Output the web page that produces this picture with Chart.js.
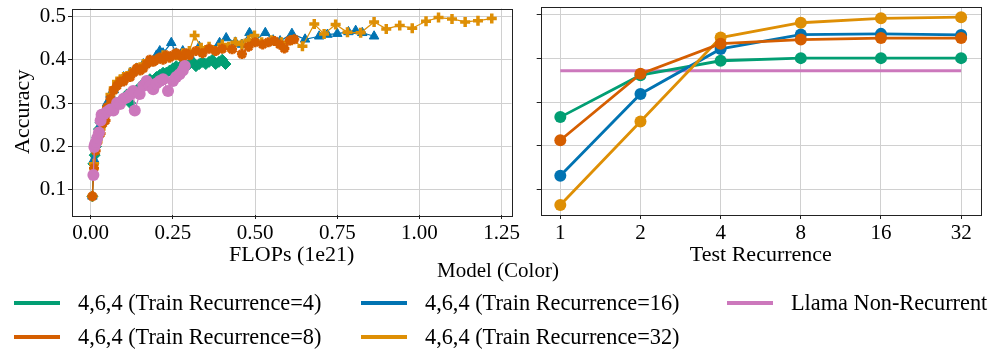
<!DOCTYPE html>
<html>
<head>
<meta charset="utf-8">
<script src="https://cdn.jsdelivr.net/npm/chart.js@4.4.1/dist/chart.umd.min.js"></script>
<style>
  body { margin: 0; background: #fff; }
  #wrap { position: relative; width: 996px; height: 363px; font-family: "Liberation Serif", serif; color: #000; }
  #leftBox { position: absolute; left: 0; top: 0; width: 520px; height: 268px; }
  #rightBox { position: absolute; left: 520px; top: 0; width: 476px; height: 268px; }
  #legendTitle { position: absolute; left: 0; width: 996px; top: 258px; text-align: center; font-size: 21px; }
  .item { position: absolute; height: 26px; font-size: 22.3px; line-height: 26px; white-space: nowrap; }
  .item span.swatch { position: absolute; left: 0; top: 11px; width: 46px; height: 4px; }
  .item span.label { position: absolute; left: 64px; top: 0; }
</style>
</head>
<body>
<div id="wrap">
  <div id="leftBox"><canvas id="flopsChart"></canvas></div>
  <div id="rightBox"><canvas id="recurrenceChart"></canvas></div>
  <div id="legendTitle">Model (Color)</div>
  <div id="legend"></div>
</div>
<script>
// Left panel: accuracy vs training FLOPs (1e21)
const rec4Flops = [0.005, 0.008, 0.012, 0.016, 0.02, 0.025, 0.03, 0.035, 0.04, 0.05, 0.06, 0.07, 0.08, 0.09, 0.10, 0.11, 0.12, 0.13, 0.14, 0.15, 0.16, 0.17, 0.18, 0.19, 0.20, 0.21, 0.22, 0.23, 0.24, 0.25, 0.26, 0.27, 0.28, 0.29, 0.30, 0.31, 0.32, 0.33, 0.34, 0.35, 0.36, 0.37, 0.38, 0.39, 0.40, 0.41];
const rec4Acc   = [0.085, 0.16, 0.18, 0.20, 0.22, 0.24, 0.255, 0.265, 0.27, 0.28, 0.29, 0.295, 0.30, 0.305, 0.31, 0.32, 0.30, 0.325, 0.33, 0.335, 0.345, 0.35, 0.355, 0.35, 0.36, 0.365, 0.37, 0.37, 0.375, 0.38, 0.385, 0.38, 0.39, 0.385, 0.39, 0.395, 0.385, 0.39, 0.395, 0.39, 0.395, 0.40, 0.39, 0.395, 0.40, 0.39];

const rec8Flops = [0.005, 0.01, 0.015, 0.02, 0.03, 0.037, 0.045, 0.05, 0.06, 0.07, 0.08, 0.09, 0.10, 0.11, 0.12, 0.13, 0.14, 0.15, 0.16, 0.17, 0.18, 0.19, 0.20, 0.21, 0.22, 0.23, 0.24, 0.25, 0.26, 0.27, 0.28, 0.29, 0.30, 0.32, 0.34, 0.36, 0.38, 0.40, 0.43, 0.46, 0.48, 0.50, 0.523, 0.54, 0.559, 0.575, 0.589, 0.605, 0.619];
const rec8Acc   = [0.085, 0.15, 0.19, 0.21, 0.23, 0.253, 0.26, 0.29, 0.31, 0.33, 0.34, 0.35, 0.35, 0.36, 0.36, 0.37, 0.38, 0.375, 0.38, 0.39, 0.40, 0.395, 0.40, 0.405, 0.40, 0.41, 0.405, 0.41, 0.415, 0.41, 0.405, 0.415, 0.41, 0.42, 0.415, 0.425, 0.42, 0.425, 0.424, 0.413, 0.43, 0.44, 0.435, 0.44, 0.443, 0.435, 0.426, 0.444, 0.447];

const rec16Flops = [0.005, 0.01, 0.02, 0.03, 0.04, 0.05, 0.06, 0.07, 0.08, 0.09, 0.10, 0.12, 0.14, 0.16, 0.18, 0.20, 0.21, 0.22, 0.245, 0.26, 0.28, 0.30, 0.33, 0.36, 0.392, 0.412, 0.44, 0.46, 0.483, 0.50, 0.531, 0.555, 0.576, 0.612, 0.652, 0.695, 0.72, 0.75, 0.784, 0.806, 0.826, 0.862];
const rec16Acc   = [0.085, 0.17, 0.22, 0.25, 0.27, 0.30, 0.32, 0.33, 0.345, 0.35, 0.36, 0.37, 0.38, 0.39, 0.395, 0.41, 0.42, 0.415, 0.439, 0.415, 0.42, 0.41, 0.43, 0.425, 0.439, 0.45, 0.44, 0.435, 0.462, 0.445, 0.462, 0.445, 0.443, 0.46, 0.447, 0.454, 0.458, 0.46, 0.464, 0.467, 0.462, 0.454];

const rec32Flops = [0.005, 0.01, 0.02, 0.03, 0.04, 0.05, 0.06, 0.07, 0.08, 0.09, 0.10, 0.12, 0.14, 0.16, 0.18, 0.20, 0.22, 0.24, 0.26, 0.28, 0.30, 0.316, 0.336, 0.36, 0.38, 0.40, 0.42, 0.44, 0.46, 0.48, 0.498, 0.52, 0.55, 0.58, 0.61, 0.644, 0.68, 0.71, 0.745, 0.781, 0.821, 0.862, 0.899, 0.94, 0.978, 1.02, 1.058, 1.099, 1.139, 1.178, 1.22];
const rec32Acc   = [0.085, 0.16, 0.21, 0.24, 0.27, 0.29, 0.32, 0.335, 0.35, 0.355, 0.36, 0.37, 0.38, 0.39, 0.395, 0.40, 0.41, 0.405, 0.41, 0.415, 0.42, 0.456, 0.4275, 0.43, 0.42, 0.435, 0.43, 0.44, 0.435, 0.445, 0.456, 0.44, 0.445, 0.44, 0.445, 0.431, 0.482, 0.4595, 0.481, 0.463, 0.462, 0.487, 0.471, 0.479, 0.4725, 0.4886, 0.497, 0.494, 0.487, 0.49, 0.4947];

const llamaFlops = [0.008, 0.011, 0.013, 0.016, 0.02, 0.025, 0.03, 0.033, 0.04, 0.05, 0.06, 0.069, 0.08, 0.089, 0.10, 0.109, 0.12, 0.129, 0.134, 0.149, 0.16, 0.17, 0.18, 0.19, 0.20, 0.21, 0.22, 0.235, 0.25, 0.26, 0.27, 0.28, 0.286];
const llamaAcc   = [0.134, 0.199, 0.205, 0.21, 0.22, 0.232, 0.26, 0.273, 0.275, 0.28, 0.285, 0.283, 0.30, 0.298, 0.31, 0.313, 0.32, 0.328, 0.283, 0.321, 0.34, 0.351, 0.34, 0.332, 0.345, 0.351, 0.355, 0.328, 0.351, 0.36, 0.3665, 0.375, 0.3856];

// Right panel: accuracy vs test recurrence
const testRecurrence = [1, 2, 4, 8, 16, 32];
const testRec4  = [0.266, 0.362, 0.395, 0.401, 0.401, 0.401];
const testRec8  = [0.213, 0.365, 0.434, 0.4435, 0.447, 0.447];
const testRec16 = [0.132, 0.319, 0.422, 0.455, 0.4565, 0.454];
const testRec32 = [0.065, 0.256, 0.448, 0.482, 0.492, 0.4947];
const llamaBaseline = 0.372;

const flopsTicks = [0, 0.25, 0.5, 0.75, 1.0, 1.25];
const accTicks = [0.1, 0.2, 0.3, 0.4, 0.5];

const models = [
  { name: '4,6,4 (Train Recurrence=4)',  color: '#029e73' },
  { name: '4,6,4 (Train Recurrence=8)',  color: '#d55e00' },
  { name: '4,6,4 (Train Recurrence=16)', color: '#0173b2' },
  { name: '4,6,4 (Train Recurrence=32)', color: '#de8f05' },
  { name: 'Llama Non-Recurrent',         color: '#cc78bc' }
];

const FONT = { family: 'Liberation Serif', size: 21 };
const TITLE_FONT = { family: 'Liberation Serif', size: 22 };
const GRID = '#d0d0d0';

function pts(xs, ys) {
  return xs.map((x, i) => ({ x: x, y: ys[i] }));
}

// matplotlib style box around the plot area
const framePlugin = {
  id: 'frame',
  afterDraw(chart) {
    const a = chart.chartArea;
    const ctx = chart.ctx;
    ctx.save();
    ctx.strokeStyle = '#222';
    ctx.lineWidth = 1;
    ctx.strokeRect(Math.round(a.left) + 0.5, Math.round(a.top) + 0.5, Math.round(a.right - a.left), Math.round(a.bottom - a.top));
    ctx.restore();
  }
};

function yAxis(width, showLabels, title) {
  return {
    min: 0.042,
    max: 0.518,
    afterBuildTicks: axis => { axis.ticks = accTicks.map(v => ({ value: v })); },
    afterFit: axis => { axis.width = width; axis.paddingTop = 0; axis.paddingBottom = 0; },
    border: { display: false },
    grid: { color: GRID, lineWidth: 1, tickLength: 4, tickColor: '#222' },
    ticks: {
      color: '#000', font: FONT, padding: 2,
      callback: v => showLabels ? v.toFixed(1) : ''
    },
    title: title ? { display: true, text: title, color: '#000', font: TITLE_FONT, padding: { top: 10, bottom: 0 } } : { display: false }
  };
}

function xFit(axis) {
  axis.height = 53;
  axis.paddingLeft = 0;
  axis.paddingRight = 0;
}

function scatterSet(idx, xs, ys, style, radius, bw, order) {
  const c = models[idx].color;
  return {
    label: models[idx].name,
    data: pts(xs, ys),
    showLine: true,
    borderColor: c,
    backgroundColor: c,
    borderWidth: 1.2,
    pointStyle: style,
    pointRadius: radius,
    pointBorderWidth: bw,
    pointBorderColor: c,
    pointBackgroundColor: c,
    order: order
  };
}

Chart.defaults.animation = false;

new Chart(document.getElementById('flopsChart'), {
  type: 'scatter',
  data: {
    datasets: [
      scatterSet(0, rec4Flops, rec4Acc, 'rectRot', 5.5, 1, 4),
      scatterSet(2, rec16Flops, rec16Acc, 'triangle', 5.5, 1, 3),
      scatterSet(3, rec32Flops, rec32Acc, 'cross', 5, 3.5, 2),
      scatterSet(1, rec8Flops, rec8Acc, 'star', 5, 3, 1),
      scatterSet(4, llamaFlops, llamaAcc, 'circle', 6, 0, 0)
    ]
  },
  options: {
    responsive: true,
    maintainAspectRatio: false,
    layout: { padding: { top: 7, right: 7, left: 0, bottom: 0 } },
    plugins: { legend: { display: false }, tooltip: { enabled: false } },
    scales: {
      x: {
        type: 'linear',
        min: -0.057,
        max: 1.28,
        afterBuildTicks: axis => { axis.ticks = flopsTicks.map(v => ({ value: v })); },
        afterFit: xFit,
        border: { display: false },
        grid: { color: GRID, lineWidth: 1, tickLength: 4, tickColor: '#222' },
        ticks: { color: '#000', font: FONT, padding: 2, maxRotation: 0, callback: v => v.toFixed(2) },
        title: { display: true, text: 'FLOPs (1e21)', color: '#000', font: TITLE_FONT, padding: { top: 0, bottom: 0 } }
      },
      y: yAxis(72, true, 'Accuracy')
    }
  },
  plugins: [framePlugin]
});

function lineSet(idx, values, order) {
  const c = models[idx].color;
  return {
    label: models[idx].name,
    data: testRecurrence.map((r, i) => ({ x: r, y: values[i] })),
    showLine: true,
    borderColor: c,
    backgroundColor: c,
    borderWidth: 2.8,
    pointRadius: 6,
    pointBorderWidth: 0,
    pointBackgroundColor: c,
    order: order
  };
}

const lastRec = testRecurrence[testRecurrence.length - 1];

new Chart(document.getElementById('recurrenceChart'), {
  type: 'scatter',
  data: {
    datasets: [
      lineSet(0, testRec4, 4),
      lineSet(1, testRec8, 1),
      lineSet(2, testRec16, 3),
      lineSet(3, testRec32, 2),
      {
        label: models[4].name,
        data: [{ x: testRecurrence[0], y: llamaBaseline }, { x: lastRec, y: llamaBaseline }],
        showLine: true,
        borderColor: models[4].color,
        borderWidth: 3,
        pointRadius: 0,
        order: 5
      }
    ]
  },
  options: {
    responsive: true,
    maintainAspectRatio: false,
    layout: { padding: { top: 7, right: 15, left: 0, bottom: 0 } },
    plugins: { legend: { display: false }, tooltip: { enabled: false } },
    scales: {
      x: {
        type: 'logarithmic',
        min: 0.844,
        max: 38,
        afterBuildTicks: axis => { axis.ticks = testRecurrence.map(v => ({ value: v })); },
        afterFit: xFit,
        border: { display: false },
        grid: { color: GRID, lineWidth: 1, tickLength: 4, tickColor: '#222' },
        ticks: { color: '#000', font: FONT, padding: 2, maxRotation: 0, callback: v => String(v) },
        title: { display: true, text: 'Test Recurrence', color: '#000', font: TITLE_FONT, padding: { top: 0, bottom: 0 } }
      },
      y: yAxis(20.7, false, null)
    }
  },
  plugins: [framePlugin]
});

// legend below both panels, three columns
const legendCols = [14, 361, 727];
const legendRows = [290, 324];
const legendSlots = [[0, 0], [0, 1], [1, 0], [1, 1], [2, 0]];
const legendEl = document.getElementById('legend');
models.forEach((m, i) => {
  const [col, row] = legendSlots[i];
  const div = document.createElement('div');
  div.className = 'item';
  div.style.left = legendCols[col] + 'px';
  div.style.top = legendRows[row] + 'px';
  div.innerHTML = '<span class="swatch" style="background:' + m.color + '"></span><span class="label">' + m.name + '</span>';
  legendEl.appendChild(div);
});
</script>
</body>
</html>
